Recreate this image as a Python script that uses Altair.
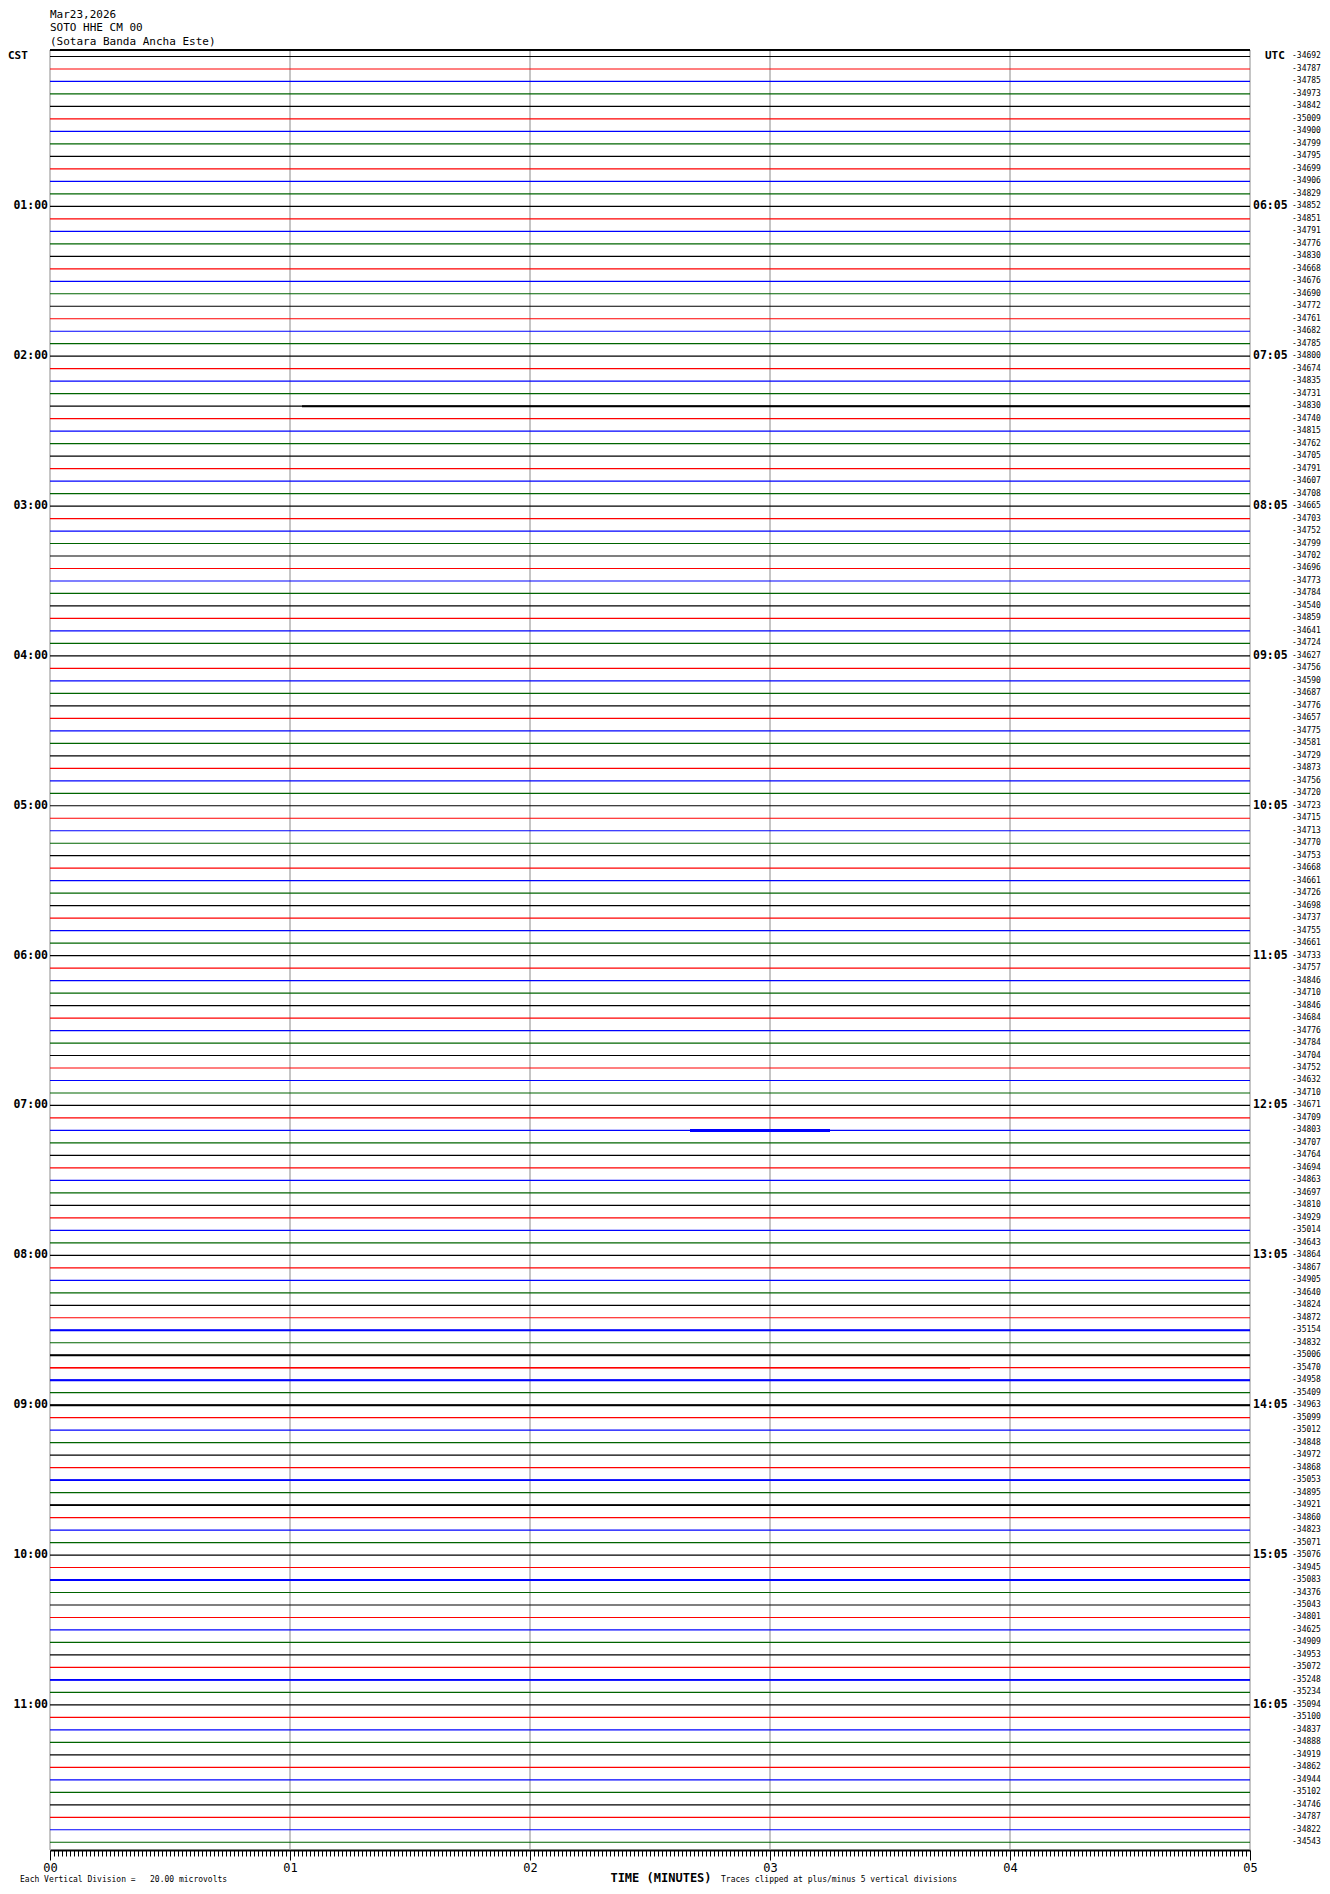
import altair as alt
import pandas as pd

# ---------------- data ----------------
trace_offsets = [
    -34692, -34787, -34785, -34973, -34842, -35009, -34900, -34799, -34795, -34699, -34906, -34829,
    -34852, -34851, -34791, -34776, -34830, -34668, -34676, -34690, -34772, -34761, -34682, -34785,
    -34800, -34674, -34835, -34731, -34830, -34740, -34815, -34762, -34705, -34791, -34607, -34708,
    -34665, -34703, -34752, -34799, -34702, -34696, -34773, -34784, -34540, -34859, -34641, -34724,
    -34627, -34756, -34590, -34687, -34776, -34657, -34775, -34581, -34729, -34873, -34756, -34720,
    -34723, -34715, -34713, -34770, -34753, -34668, -34661, -34726, -34698, -34737, -34755, -34661,
    -34733, -34757, -34846, -34710, -34846, -34684, -34776, -34784, -34704, -34752, -34632, -34710,
    -34671, -34709, -34803, -34707, -34764, -34694, -34863, -34697, -34810, -34929, -35014, -34643,
    -34864, -34867, -34905, -34640, -34824, -34872, -35154, -34832, -35006, -35470, -34958, -35409,
    -34963, -35099, -35012, -34848, -34972, -34868, -35053, -34895, -34921, -34860, -34823, -35071,
    -35076, -34945, -35083, -34376, -35043, -34801, -34625, -34909, -34953, -35072, -35248, -35234,
    -35094, -35100, -34837, -34888, -34919, -34862, -34944, -35102, -34746, -34787, -34822, -34543,
]
trace_palette = ["#000000", "#FF0000", "#0000FF", "#006400"]
trace_start_sec = 0
trace_end_sec = 300

# segments where the trace is visibly busier (row, start s, end s, thickness)
busy_rows = [28, 86, 102, 104, 105, 106, 108, 114, 116, 122, 130]
busy_start = [63, 160, 0, 0, 0, 0, 0, 0, 0, 0, 0]
busy_end = [300, 195, 300, 300, 230, 300, 300, 300, 300, 300, 300]
busy_width = [2.0, 3.0, 2.0, 1.8, 1.6, 2.0, 2.0, 1.8, 1.8, 1.8, 1.8]

hour_rows = [12, 24, 36, 48, 60, 72, 84, 96, 108, 120, 132]
hour_cst = ["01:00", "02:00", "03:00", "04:00", "05:00", "06:00",
            "07:00", "08:00", "09:00", "10:00", "11:00"]
hour_utc = ["06:05", "07:05", "08:05", "09:05", "10:05", "11:05",
            "12:05", "13:05", "14:05", "15:05", "16:05"]

minute_lines = [0, 60, 120, 180, 240, 300]
tick_seconds = list(range(0, 301))

title_lines = ["Mar23,2026", "SOTO HHE CM 00", "(Sotara Banda Ancha Este)"]
footer_left = "Each Vertical Division =\u00a0\u00a0\u00a020.00 microvolts"
footer_mid = "TIME (MINUTES)"
footer_right = "Traces clipped at plus/minus 5 vertical divisions"

# ---------------- tables ----------------
n = len(trace_offsets)
traces = pd.DataFrame({
    "row": list(range(n)),
    "t0": [trace_start_sec] * n,
    "t1": [trace_end_sec] * n,
    "label": [str(v) for v in trace_offsets],
    "color": [trace_palette[i % 4] for i in range(n)],
})
busy = pd.DataFrame({
    "row": busy_rows, "t0": busy_start, "t1": busy_end, "w": busy_width,
    "color": [trace_palette[r % 4] for r in busy_rows],
})
hours = pd.DataFrame({"row": hour_rows, "cst": hour_cst, "utc": hour_utc})
grid = pd.DataFrame({"sec": minute_lines})
titles = pd.DataFrame({"line": title_lines, "k": list(range(len(title_lines)))})

FONT = "DejaVu Sans Mono"
W, H = 1200, 1800
xscale = alt.Scale(domain=[0, 300], nice=False, zero=False)
yscale = alt.Scale(domain=[-0.52, n - 1 + 0.62], reverse=True, nice=False, zero=False)

xaxis = alt.Axis(
    values=tick_seconds,
    labelExpr="datum.value % 60 === 0 ? '0' + (datum.value / 60) : ''",
    labelOverlap=False,
    labelFlush=False,
    labelFont=FONT,
    labelFontSize=12,
    labelColor="black",
    labelPadding=2,
    tickColor="black",
    tickWidth=1,
    tickSize={"condition": {"test": "datum.value % 60 === 0", "value": 10}, "value": 6},
    domainColor="black",
    domainWidth=2,
    grid=False,
    title=None,
)

grid_layer = alt.Chart(grid).mark_rule(color="#8c8c8c", strokeWidth=1).encode(
    x=alt.X("sec:Q", scale=xscale, axis=xaxis)
)

top_border = alt.Chart(grid).mark_rule(color="black", strokeWidth=1).encode(
    y=alt.value(0)
)

trace_layer = alt.Chart(traces).mark_rule(strokeWidth=1.2).encode(
    x=alt.X("t0:Q", scale=xscale, axis=xaxis),
    x2="t1:Q",
    y=alt.Y("row:Q", scale=yscale, axis=None),
    color=alt.Color("color:N", scale=None, legend=None),
)

busy_layer = alt.Chart(busy).mark_rule().encode(
    x=alt.X("t0:Q", scale=xscale, axis=xaxis),
    x2="t1:Q",
    y=alt.Y("row:Q", scale=yscale, axis=None),
    color=alt.Color("color:N", scale=None, legend=None),
    strokeWidth=alt.StrokeWidth("w:Q", scale=None, legend=None),
)

num_layer = alt.Chart(traces).mark_text(
    align="left", baseline="middle", font=FONT, fontSize=8, color="black"
).encode(
    x=alt.value(W + 42),
    y=alt.Y("row:Q", scale=yscale, axis=None),
    text="label:N",
)

cst_layer = alt.Chart(hours).mark_text(
    align="right", baseline="middle", font=FONT, fontSize=11.5, fontWeight="bold", color="black"
).encode(
    x=alt.value(-2),
    y=alt.Y("row:Q", scale=yscale, axis=None),
    text="cst:N",
)

utc_layer = alt.Chart(hours).mark_text(
    align="left", baseline="middle", font=FONT, fontSize=11.5, fontWeight="bold", color="black"
).encode(
    x=alt.value(W + 3),
    y=alt.Y("row:Q", scale=yscale, axis=None),
    text="utc:N",
)

corner = pd.DataFrame({"row": [0, 0], "txt": ["CST", "UTC"], "side": ["l", "r"]})
cst_head = alt.Chart(corner[corner.side == "l"]).mark_text(
    align="left", baseline="middle", font=FONT, fontSize=11, fontWeight="bold", color="black"
).encode(x=alt.value(-42), y=alt.Y("row:Q", scale=yscale, axis=None), text="txt:N")
utc_head = alt.Chart(corner[corner.side == "r"]).mark_text(
    align="left", baseline="middle", font=FONT, fontSize=11, fontWeight="bold", color="black"
).encode(x=alt.value(W + 15), y=alt.Y("row:Q", scale=yscale, axis=None), text="txt:N")

title_layer = alt.Chart(titles).mark_text(
    align="left", baseline="middle", font=FONT, fontSize=11, color="black"
).encode(
    x=alt.value(0),
    y=alt.Y("k:Q", scale=alt.Scale(domain=[0, 2], range=[-35.5, -8.5]), axis=None),
    text="line:N",
)

footer = pd.DataFrame({
    "txt": [footer_left, footer_mid, footer_right],
    "k": [0, 1, 2],
})
foot_left = alt.Chart(footer[footer.k == 0]).mark_text(
    align="left", baseline="middle", font=FONT, fontSize=8, color="black"
).encode(x=alt.value(-30), y=alt.value(H + 30), text="txt:N")
foot_mid = alt.Chart(footer[footer.k == 1]).mark_text(
    align="center", baseline="middle", font=FONT, fontSize=12, fontWeight="bold", color="black"
).encode(x=alt.value(611), y=alt.value(H + 28), text="txt:N")
foot_right = alt.Chart(footer[footer.k == 2]).mark_text(
    align="left", baseline="middle", font=FONT, fontSize=8, color="black"
).encode(x=alt.value(671), y=alt.value(H + 30), text="txt:N")

chart = alt.layer(
    grid_layer, top_border, trace_layer, busy_layer, num_layer, cst_layer, utc_layer,
    cst_head, utc_head, title_layer, foot_left, foot_mid, foot_right,
).resolve_scale(y="independent").properties(
    width=W,
    height=H,
    autosize=alt.AutoSizeParams(type="none"),
    padding={"left": 42, "top": 42, "right": 72, "bottom": 36},
    background="white",
).configure_view(stroke=None)

chart.save("out.html", embed_options={"renderer": "svg", "actions": False})
